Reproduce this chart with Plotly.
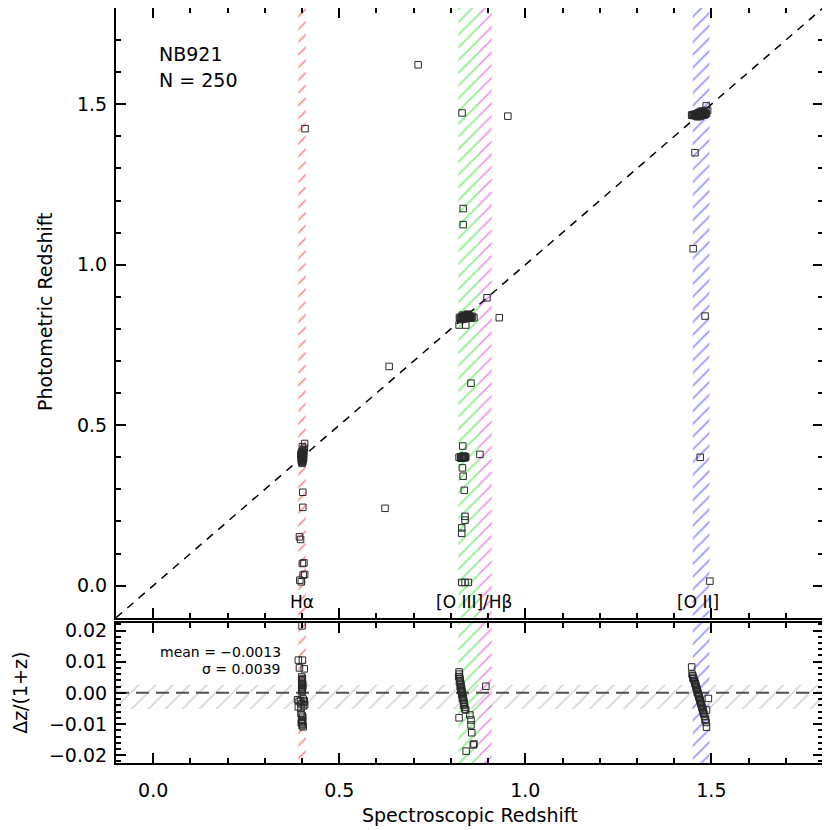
import plotly.graph_objects as go
from plotly.subplots import make_subplots

# axis ranges
x_rng = [-0.1, 1.8]
y_rng = [-0.1, 1.8]
r_rng = [-0.0225, 0.0225]

# emission line windows for NB921
band_lo = [0.390, 0.820, 0.875, 1.450]
band_hi = [0.410, 0.875, 0.910, 1.495]
band_col = ['rgb(255,40,40)', 'rgb(30,220,30)', 'rgb(220,50,220)', 'rgb(50,50,255)']
band_lab = ['H\u03b1', '[O III]/H\u03b2', '[O II]']
band_lab_x = [0.401, 0.861, 1.463]

# Halpha emitters
ha_zspec = [0.398, 0.400, 0.401, 0.402, 0.399, 0.403, 0.400, 0.401, 0.402, 0.404,
            0.399, 0.400, 0.401, 0.403, 0.402, 0.398, 0.400, 0.401, 0.404, 0.405,
            0.399, 0.402, 0.400, 0.403, 0.401, 0.397, 0.402, 0.400, 0.404, 0.401,
            0.399, 0.403, 0.400, 0.402, 0.406, 0.401, 0.400, 0.398, 0.402, 0.407,
            0.402, 0.402, 0.393, 0.396, 0.401, 0.405, 0.403, 0.407, 0.394, 0.398, 0.408]
ha_zphot = [0.391, 0.395, 0.398, 0.402, 0.405, 0.400, 0.409, 0.412, 0.396, 0.404,
            0.388, 0.384, 0.407, 0.410, 0.393, 0.399, 0.401, 0.415, 0.397, 0.420,
            0.403, 0.406, 0.390, 0.413, 0.399, 0.408, 0.386, 0.417, 0.411, 0.394,
            0.402, 0.396, 0.404, 0.422, 0.428, 0.433, 0.381, 0.414, 0.392, 0.443,
            0.291, 0.244, 0.152, 0.144, 0.069, 0.071, 0.033, 0.035, 0.017, 0.012, 1.424]

# [OIII] emitters on the relation
o3_zspec = [0.825, 0.830, 0.833, 0.836, 0.838, 0.840, 0.842, 0.845, 0.848, 0.850,
            0.828, 0.834, 0.839, 0.843, 0.846, 0.852, 0.855, 0.858, 0.862, 0.831,
            0.836, 0.841, 0.844, 0.849, 0.853, 0.835, 0.838, 0.840, 0.843, 0.847,
            0.823, 0.827, 0.832, 0.837, 0.842, 0.851, 0.822, 0.840]
o3_zphot = [0.832, 0.838, 0.835, 0.840, 0.842, 0.836, 0.838, 0.846, 0.834, 0.839,
            0.829, 0.833, 0.841, 0.837, 0.844, 0.836, 0.833, 0.839, 0.835, 0.843,
            0.831, 0.839, 0.835, 0.840, 0.837, 0.836, 0.834, 0.838, 0.836, 0.841,
            0.836, 0.834, 0.839, 0.837, 0.835, 0.839, 0.812, 0.812]

# [OIII] emitters with a low photo-z
o3low_zspec = [0.822, 0.826, 0.829, 0.831, 0.834, 0.836, 0.838, 0.840, 0.827, 0.833,
               0.837, 0.832, 0.831, 0.833, 0.836, 0.838, 0.838, 0.829, 0.829,
               0.829, 0.838, 0.847, 0.878]
o3low_zphot = [0.400, 0.402, 0.398, 0.401, 0.399, 0.403, 0.400, 0.401, 0.397, 0.404,
               0.398, 0.435, 0.367, 0.341, 0.297, 0.216, 0.204, 0.180, 0.163,
               0.010, 0.010, 0.010, 0.409]

# [OII] emitters
o2_zspec = [1.447, 1.449, 1.451, 1.452, 1.454, 1.455, 1.456, 1.457, 1.458, 1.459,
            1.460, 1.461, 1.462, 1.462, 1.463, 1.464, 1.464, 1.465, 1.466, 1.466,
            1.467, 1.468, 1.468, 1.469, 1.470, 1.470, 1.471, 1.472, 1.472, 1.473,
            1.474, 1.474, 1.475, 1.476, 1.476, 1.477, 1.478, 1.478, 1.479, 1.480,
            1.481, 1.482, 1.483, 1.484, 1.485, 1.487, 1.460, 1.465, 1.470, 1.475,
            1.480, 1.468, 1.472, 1.463, 1.477, 1.490, 1.486,
            1.456, 1.451, 1.483, 1.470, 1.496]
o2_zphot = [1.466, 1.467, 1.465, 1.468, 1.466, 1.467, 1.469, 1.465, 1.468, 1.467,
            1.466, 1.470, 1.465, 1.468, 1.467, 1.466, 1.469, 1.468, 1.465, 1.467,
            1.470, 1.466, 1.468, 1.467, 1.469, 1.465, 1.468, 1.467, 1.470, 1.466,
            1.468, 1.467, 1.469, 1.466, 1.471, 1.468, 1.467, 1.470, 1.468, 1.469,
            1.467, 1.471, 1.468, 1.470, 1.472, 1.471, 1.463, 1.474, 1.462, 1.473,
            1.476, 1.475, 1.478, 1.461, 1.479, 1.481, 1.495,
            1.349, 1.050, 0.840, 0.400, 0.014]

# other objects
oth_zspec = [0.712, 0.623, 0.634, 0.830, 0.833, 0.833, 0.953, 0.897, 0.930, 0.854]
oth_zphot = [1.623, 0.241, 0.683, 1.473, 1.175, 1.125, 1.463, 0.897, 0.835, 0.631]

# residual panel, dz/(1+z)
res_zspec = [0.390, 0.401, 0.393, 0.406, 0.399, 0.400, 0.401, 0.400, 0.399, 0.401,
             0.400, 0.402, 0.400, 0.401, 0.399, 0.400, 0.401, 0.400,
             0.388, 0.392, 0.396, 0.399, 0.403, 0.405, 0.407, 0.390, 0.397, 0.404, 0.406,
             0.397, 0.400, 0.402, 0.399, 0.401, 0.398, 0.402, 0.400, 0.403, 0.399, 0.400,
             0.822, 0.823, 0.821, 0.824, 0.825, 0.823, 0.826, 0.827, 0.825, 0.828,
             0.829, 0.827, 0.830, 0.831, 0.829, 0.832, 0.833, 0.831, 0.834, 0.835,
             0.836, 0.834, 0.837, 0.838, 0.822, 0.851, 0.854, 0.854, 0.856, 0.862,
             0.860, 0.841, 0.894, 0.840,
             1.447, 1.448, 1.450, 1.451, 1.452, 1.454, 1.455, 1.456, 1.457, 1.458,
             1.459, 1.460, 1.461, 1.462, 1.463, 1.464, 1.465, 1.466, 1.467, 1.468,
             1.469, 1.470, 1.471, 1.472, 1.473, 1.474, 1.475, 1.476, 1.477, 1.478,
             1.479, 1.480, 1.482, 1.484, 1.486, 1.487, 1.492, 1.487, 1.483, 1.451]
res_dz = [0.0105, 0.0105, 0.0080, 0.0077, 0.0051, 0.0046, 0.0042, 0.0038, 0.0034, 0.0030,
          0.0027, 0.0024, 0.0020, 0.0017, 0.0013, 0.0010, 0.0006, 0.0003,
          -0.0022, -0.0028, -0.0025, -0.0035, -0.0020, -0.0030, -0.0038, -0.0045, -0.0049, -0.0042, -0.0026,
          -0.0066, -0.0072, -0.0078, -0.0085, -0.0090, -0.0096, -0.0100, -0.0105, -0.0109, -0.0093, 0.0215,
          0.0067, 0.0060, 0.0052, 0.0046, 0.0040, 0.0035, 0.0030, 0.0025, 0.0020, 0.0016,
          0.0011, 0.0007, 0.0003, -0.0001, -0.0005, -0.0010, -0.0015, -0.0019, -0.0024, -0.0030,
          -0.0035, -0.0040, -0.0046, -0.0052, -0.0080, -0.0071, -0.0087, -0.0103, -0.0128, -0.0164,
          -0.0167, -0.0187, 0.0021, -0.0055,
          0.0083, 0.0060, 0.0055, 0.0050, 0.0046, 0.0040, 0.0036, 0.0031, 0.0028, 0.0024,
          0.0019, 0.0015, 0.0011, 0.0008, 0.0003, -0.0001, -0.0005, -0.0010, -0.0013, -0.0018,
          -0.0022, -0.0026, -0.0030, -0.0034, -0.0038, -0.0043, -0.0047, -0.0051, -0.0055, -0.0060,
          -0.0064, -0.0068, -0.0076, -0.0085, -0.0095, -0.0110, -0.0018, -0.0055, -0.0087, 0.0046]

mean_dz = -0.0013
sigma_dz = 0.0039

FONT = 'DejaVu Sans'

fig = make_subplots(rows=2, cols=1, shared_xaxes=False)

# hatched line windows in both panels
for lo, hi, col in zip(band_lo, band_hi, band_col):
    for row, yr in [(1, y_rng), (2, r_rng)]:
        fig.add_trace(go.Scatter(x=[lo, hi, hi, lo, lo], y=[yr[0], yr[0], yr[1], yr[1], yr[0]],
                                 mode='lines', line=dict(width=0), fill='toself',
                                 fillcolor='rgba(0,0,0,0)',
                                 fillpattern=dict(shape='/', fgcolor=col, bgcolor='rgba(0,0,0,0)',
                                                  size=9, solidity=0.2),
                                 hoverinfo='skip', showlegend=False), row=row, col=1)

# gray +-sigma band
fig.add_trace(go.Scatter(x=[x_rng[0], x_rng[1], x_rng[1], x_rng[0], x_rng[0]],
                         y=[mean_dz - sigma_dz, mean_dz - sigma_dz, mean_dz + sigma_dz,
                            mean_dz + sigma_dz, mean_dz - sigma_dz],
                         mode='lines', line=dict(width=0), fill='toself',
                         fillcolor='rgba(0,0,0,0)',
                         fillpattern=dict(shape='/', fgcolor='rgb(160,160,160)',
                                          bgcolor='rgba(0,0,0,0)', size=12, solidity=0.13),
                         hoverinfo='skip', showlegend=False), row=2, col=1)

# one-to-one line and zero line
fig.add_trace(go.Scatter(x=x_rng, y=y_rng, mode='lines',
                         line=dict(color='black', width=1.5, dash='8px,7px'),
                         showlegend=False), row=1, col=1)
fig.add_trace(go.Scatter(x=x_rng, y=[0, 0], mode='lines',
                         line=dict(color='rgb(80,80,80)', width=2, dash='13px,7px'),
                         showlegend=False), row=2, col=1)

mk = dict(symbol='square-open', size=6.5, color='rgb(40,40,40)', line=dict(width=1))
all_zspec = ha_zspec + o3_zspec + o3low_zspec + o2_zspec + oth_zspec
all_zphot = ha_zphot + o3_zphot + o3low_zphot + o2_zphot + oth_zphot
fig.add_trace(go.Scatter(x=all_zspec, y=all_zphot, mode='markers', marker=mk,
                         showlegend=False), row=1, col=1)
fig.add_trace(go.Scatter(x=res_zspec, y=res_dz, mode='markers', marker=mk,
                         showlegend=False), row=2, col=1)

ax = dict(showline=True, linecolor='black', linewidth=2, mirror='allticks',
          ticks='inside', ticklen=10, tickwidth=1.5, tickcolor='black',
          showgrid=False, zeroline=False, automargin=False,
          tickfont=dict(family=FONT, size=19, color='black'))
mn = dict(ticklen=5, tickwidth=1.5, ticks='inside', tickcolor='black')

fig.update_xaxes(range=x_rng, dtick=0.5, tick0=0, tickformat='.1f', domain=[0, 1],
                 minor=dict(dtick=0.1, **mn), **ax)
fig.update_xaxes(showticklabels=False, row=1, col=1)
fig.update_xaxes(ticklabelstandoff=9, row=2, col=1)
fig.update_yaxes(range=y_rng, dtick=0.5, tick0=0, tickformat='.1f', domain=[0.1924, 1],
                 minor=dict(dtick=0.1, **mn), ticklabelstandoff=3, row=1, col=1, **ax)
fig.update_yaxes(range=r_rng, dtick=0.01, tick0=0, tickformat='.2f', domain=[0, 0.1858],
                 minor=dict(dtick=0.002, **mn), ticklabelstandoff=3, row=2, col=1, **ax)

ann = []
for lab, lx in zip(band_lab, band_lab_x):
    ann.append(dict(x=lx, y=-0.05, xref='x', yref='y', text=lab, showarrow=False,
                    xanchor='center', yanchor='middle',
                    font=dict(family=FONT, size=17, color='black')))
ann.append(dict(x=0.010, y=1.657, xref='x', yref='y', text='NB921', showarrow=False,
                xanchor='left', yanchor='middle', font=dict(family=FONT, size=19, color='black')))
ann.append(dict(x=0.010, y=1.576, xref='x', yref='y', text='N = 250', showarrow=False,
                xanchor='left', yanchor='middle', font=dict(family=FONT, size=19, color='black')))
ann.append(dict(x=0.349, y=0.0131, xref='x2', yref='y2', text='mean = \u22120.0013',
                showarrow=False, xanchor='right', yanchor='middle',
                font=dict(family=FONT, size=14, color='black')))
ann.append(dict(x=0.349, y=0.0076, xref='x2', yref='y2', text='\u03c3 = 0.0039',
                showarrow=False, xanchor='right', yanchor='middle',
                font=dict(family=FONT, size=14, color='black')))
ann.append(dict(x=-0.1004, y=0.5974, xref='paper', yref='paper', text='Photometric Redshift',
                showarrow=False, textangle=-90, xanchor='center', yanchor='middle',
                font=dict(family=FONT, size=19, color='black')))
ann.append(dict(x=-0.136, y=0.0927, xref='paper', yref='paper', text='\u0394z/(1+z)',
                showarrow=False, textangle=-90, xanchor='center', yanchor='middle',
                font=dict(family=FONT, size=19, color='black')))
ann.append(dict(x=0.5007, y=-0.0689, xref='paper', yref='paper', text='Spectroscopic Redshift',
                showarrow=False, xanchor='center', yanchor='middle',
                font=dict(family=FONT, size=19, color='black')))

# page body adds an 8px offset, so the figure is kept at 822x822
fig.update_layout(width=822, height=822, margin=dict(l=108, r=7, t=0, b=67),
                  plot_bgcolor='white', paper_bgcolor='white',
                  font=dict(family=FONT, color='black'), annotations=ann)

fig.write_html("out.html")
